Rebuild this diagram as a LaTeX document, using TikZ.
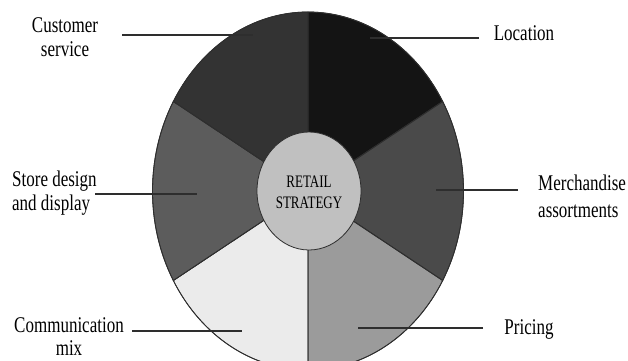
\documentclass[tikz,border=0pt]{standalone}
\usepackage{graphicx}
\usepackage{fontspec}
\setmainfont{Liberation Serif}
\usetikzlibrary{shapes.geometric}
\definecolor{cLoc}{HTML}{141414}
\definecolor{cMer}{HTML}{4A4A4A}
\definecolor{cPri}{HTML}{9B9B9B}
\definecolor{cCom}{HTML}{EBEBEB}
\definecolor{cSto}{HTML}{5C5C5C}
\definecolor{cCus}{HTML}{333333}
\definecolor{cCen}{HTML}{C0C0C0}
\definecolor{cLine}{HTML}{2E2E2E}
\newcommand{\vtxt}[3][18.2]{\scalebox{1}[1.32]{\fontsize{17}{#1}\selectfont\begin{tabular}{@{}#2@{}}#3\end{tabular}}}
\newcommand{\ctxt}[1]{\scalebox{1}[1.35]{\fontsize{13}{15.6}\selectfont\begin{tabular}{@{}c@{}}#1\end{tabular}}}
\tikzset{
  sector/.style={draw=cLine, line width=0.8pt},
  lbl/.style={inner sep=0pt, text=black},
  leader/.style={draw=cLine, line width=1.2pt},
  oarc/.style={x radius=155.5pt, y radius=179pt},
}
\begin{document}
\begin{tikzpicture}[x=1pt,y=1pt]
\useasboundingbox (0,0) rectangle (628,360);
\clip (0,0) rectangle (628,360);
\begin{scope}[shift={(308,169)}]
  \fill[sector, fill=cLoc] (0,0) -- (90:155.5pt and 179pt) arc[oarc, start angle=90, end angle=30] -- cycle;
  \fill[sector, fill=cMer] (0,0) -- (30:155.5pt and 179pt) arc[oarc, start angle=30, end angle=-30] -- cycle;
  \fill[sector, fill=cPri] (0,0) -- (-30:155.5pt and 179pt) arc[oarc, start angle=-30, end angle=-90] -- cycle;
  \fill[sector, fill=cCom] (0,0) -- (270:155.5pt and 179pt) arc[oarc, start angle=270, end angle=210] -- cycle;
  \fill[sector, fill=cSto] (0,0) -- (210:155.5pt and 179pt) arc[oarc, start angle=210, end angle=150] -- cycle;
  \fill[sector, fill=cCus] (0,0) -- (150:155.5pt and 179pt) arc[oarc, start angle=150, end angle=90] -- cycle;
  \draw[sector] (0,0) -- (90:155.5pt and 179pt) (0,0) -- (30:155.5pt and 179pt) (0,0) -- (-30:155.5pt and 179pt)
     (0,0) -- (-90:155.5pt and 179pt) (0,0) -- (210:155.5pt and 179pt) (0,0) -- (150:155.5pt and 179pt);
  \draw[sector] (0,0) ellipse[oarc];
\end{scope}
\node[ellipse, draw=cLine, line width=0.8pt, fill=cCen, minimum width=104pt, minimum height=118pt, inner sep=0pt]
   (center) at (309,169) {};
\node[lbl] (ctext) at (309,166) {\ctxt{RETAIL\\STRATEGY}};

% labels
\node[lbl] (cus) at (65,320) {\vtxt{c}{Customer\\service}};
\node[lbl] (loc) at (524,324) {\vtxt{c}{Location}};
\node[lbl, anchor=west] (sto) at (12,166) {\vtxt{l}{Store design\\and display}};
\node[lbl, anchor=west] (mer) at (538,161) {\vtxt[20.3]{l}{Merchandise\\assortments}};
\node[lbl] (com) at (69,21) {\vtxt[17.6]{c}{Communication\\mix}};
\node[lbl] (pri) at (529,30) {\vtxt{c}{Pricing}};

% leader ends
\coordinate (cusA) at (122,325); \coordinate (cusB) at (253,325);
\coordinate (locA) at (479,322); \coordinate (locB) at (370,322);
\coordinate (stoA) at (95,166);  \coordinate (stoB) at (197,166);
\coordinate (merA) at (518,170); \coordinate (merB) at (436,170);
\coordinate (comA) at (132,29);  \coordinate (comB) at (242,29);
\coordinate (priA) at (483,32);  \coordinate (priB) at (358,32);
\draw[leader] (cusA) -- (cusB);
\draw[leader] (locA) -- (locB);
\draw[leader] (stoA) -- (stoB);
\draw[leader] (merA) -- (merB);
\draw[leader] (comA) -- (comB);
\draw[leader] (priA) -- (priB);
\end{tikzpicture}
\end{document}
